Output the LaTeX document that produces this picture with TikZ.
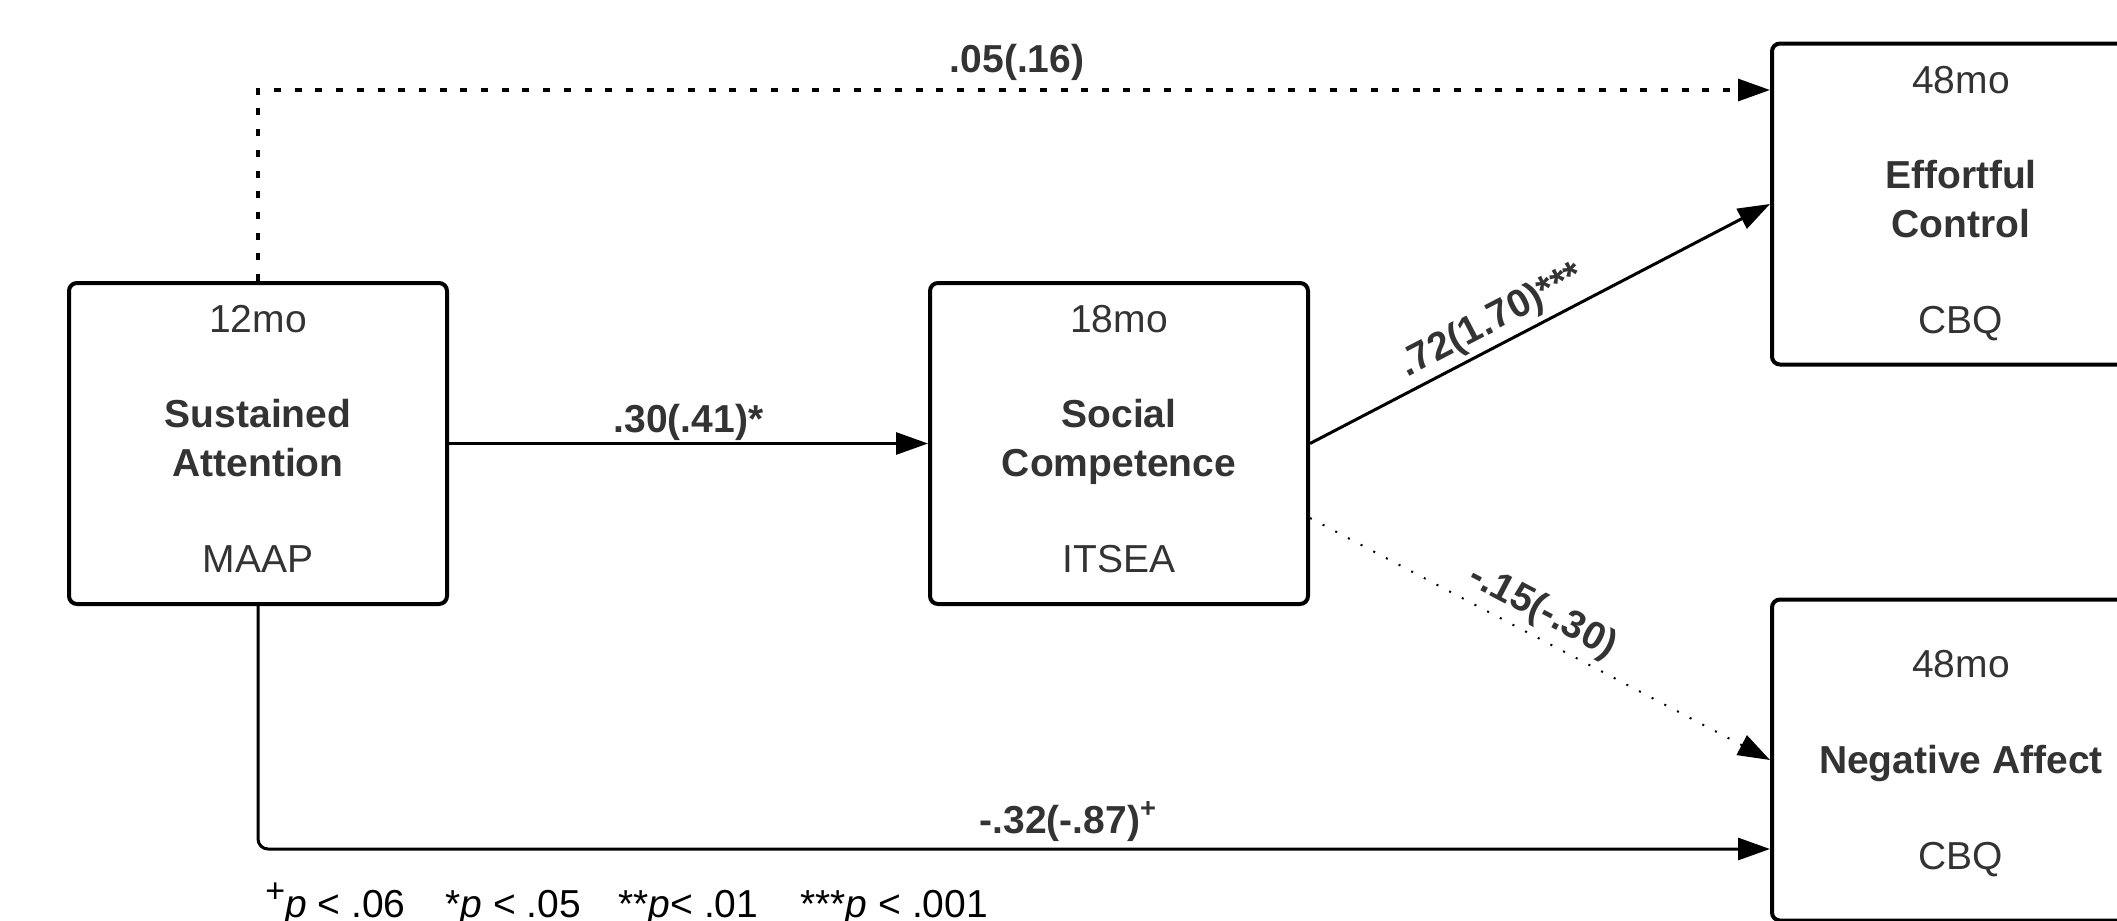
\documentclass[tikz,border=0pt]{standalone}
\usepackage{fontspec}
\setmainfont{Liberation Sans}
\usetikzlibrary{arrows.meta,calc}
\definecolor{txtgray}{HTML}{333333}
\newcommand{\bigplus}{\raisebox{7.5pt}{\fontsize{17pt}{17pt}\selectfont +}}
\begin{document}
\begin{tikzpicture}[x=0.5pt,y=-0.5pt,
  box/.style={draw=black, line width=2pt, rounded corners=4pt, minimum width=189pt, minimum height=160.5pt, inner sep=0pt, fill=white},
  lbl/.style={text=txtgray, font=\fontsize{19.5pt}{23pt}\selectfont, inner sep=0pt, anchor=base},
  blbl/.style={text=txtgray, font=\fontsize{19.5pt}{23pt}\selectfont\bfseries, inner sep=0pt, anchor=base},
  elbl/.style={text=txtgray, font=\fontsize{19.5pt}{23pt}\selectfont\bfseries, inner sep=0pt, anchor=base},
  conn/.style={line width=1.5pt, -{Triangle[length=16pt,width=11pt]}},
  dotthick/.style={conn, line width=1.6pt, dash pattern=on 3.5pt off 6.85pt},
  dotthin/.style={conn, line width=1pt, dash pattern=on 1pt off 6.15pt},
  foot/.style={text=black, font=\fontsize{19.5pt}{23pt}\selectfont, inner sep=0pt, anchor=base west}
]
\useasboundingbox (0,0) rectangle (2117,921);
\clip (0,0) rectangle (2117,921);

% boxes
\node[box] (sa) at (258,443.5) {};
\node[box] (sc) at (1119,443.5) {};
\node[box] (ec) at (1961,204) {};
\node[box] (na) at (1961,760) {};

% box texts
\node[lbl]  (saA) at ($(sa)+(0,-111.5)$) {12mo};
\node[blbl] (saB) at ($(sa)+(0,-16.5)$) {Sustained};
\node[blbl] (saC) at ($(sa)+(0,32.5)$) {Attention};
\node[lbl]  (saD) at ($(sa)+(0,128.5)$) {MAAP};

\node[lbl]  (scA) at ($(sc)+(0,-111.5)$) {18mo};
\node[blbl] (scB) at ($(sc)+(0,-16.5)$) {Social};
\node[blbl] (scC) at ($(sc)+(0,32.5)$) {Competence};
\node[lbl]  (scD) at ($(sc)+(0,128.5)$) {ITSEA};

\node[lbl]  (ecA) at ($(ec)+(0,-111)$) {48mo};
\node[blbl] (ecB) at ($(ec)+(0,-16)$) {Effortful};
\node[blbl] (ecC) at ($(ec)+(0,33)$) {Control};
\node[lbl]  (ecD) at ($(ec)+(0,129)$) {CBQ};

\node[lbl]  (naA) at ($(na)+(0,-83)$) {48mo};
\node[blbl] (naB) at ($(na)+(0,13)$) {Negative Affect};
\node[lbl]  (naC) at ($(na)+(0,109)$) {CBQ};

% connectors
\coordinate (tl) at (258,90);
\coordinate (bl) at (258,849);
\coordinate (scd) at ($(sc.east)+(0,74.5)$);

\draw[dotthick] (sa.north) -- (tl) -- (tl -| ec.west)
  node[elbl, pos=0.502, yshift=9pt] (l1) {.05(.16)};

\draw[conn] (sa.east) -- (sc.west)
  node[elbl, pos=0.5, yshift=5.5pt] (l2) {.30(.41)*};

\draw[conn] (sc.east) -- (ec.west)
  node[elbl, pos=0.42, sloped, yshift=7pt] (l3) {.72(1.70)***};

\draw[dotthin] (scd) -- (na.west)
  node[elbl, pos=0.48, sloped, yshift=7.5pt] (l4) {-.15(-.30)};

\draw[conn, rounded corners=5pt] (sa.south) -- (bl) -- (bl -| na.west)
  node[elbl, pos=0.536, yshift=8pt] (l5) {-.32(-.87)\textsuperscript{+}};

% footnote
\node[foot] (fn) at (265,917) {\makebox[90pt][l]{\bigplus\textit{p} < .06}\makebox[86.5pt][l]{*\textit{p} < .05}\makebox[91pt][l]{**\textit{p}< .01}***\textit{p} < .001};
\end{tikzpicture}
\end{document}
